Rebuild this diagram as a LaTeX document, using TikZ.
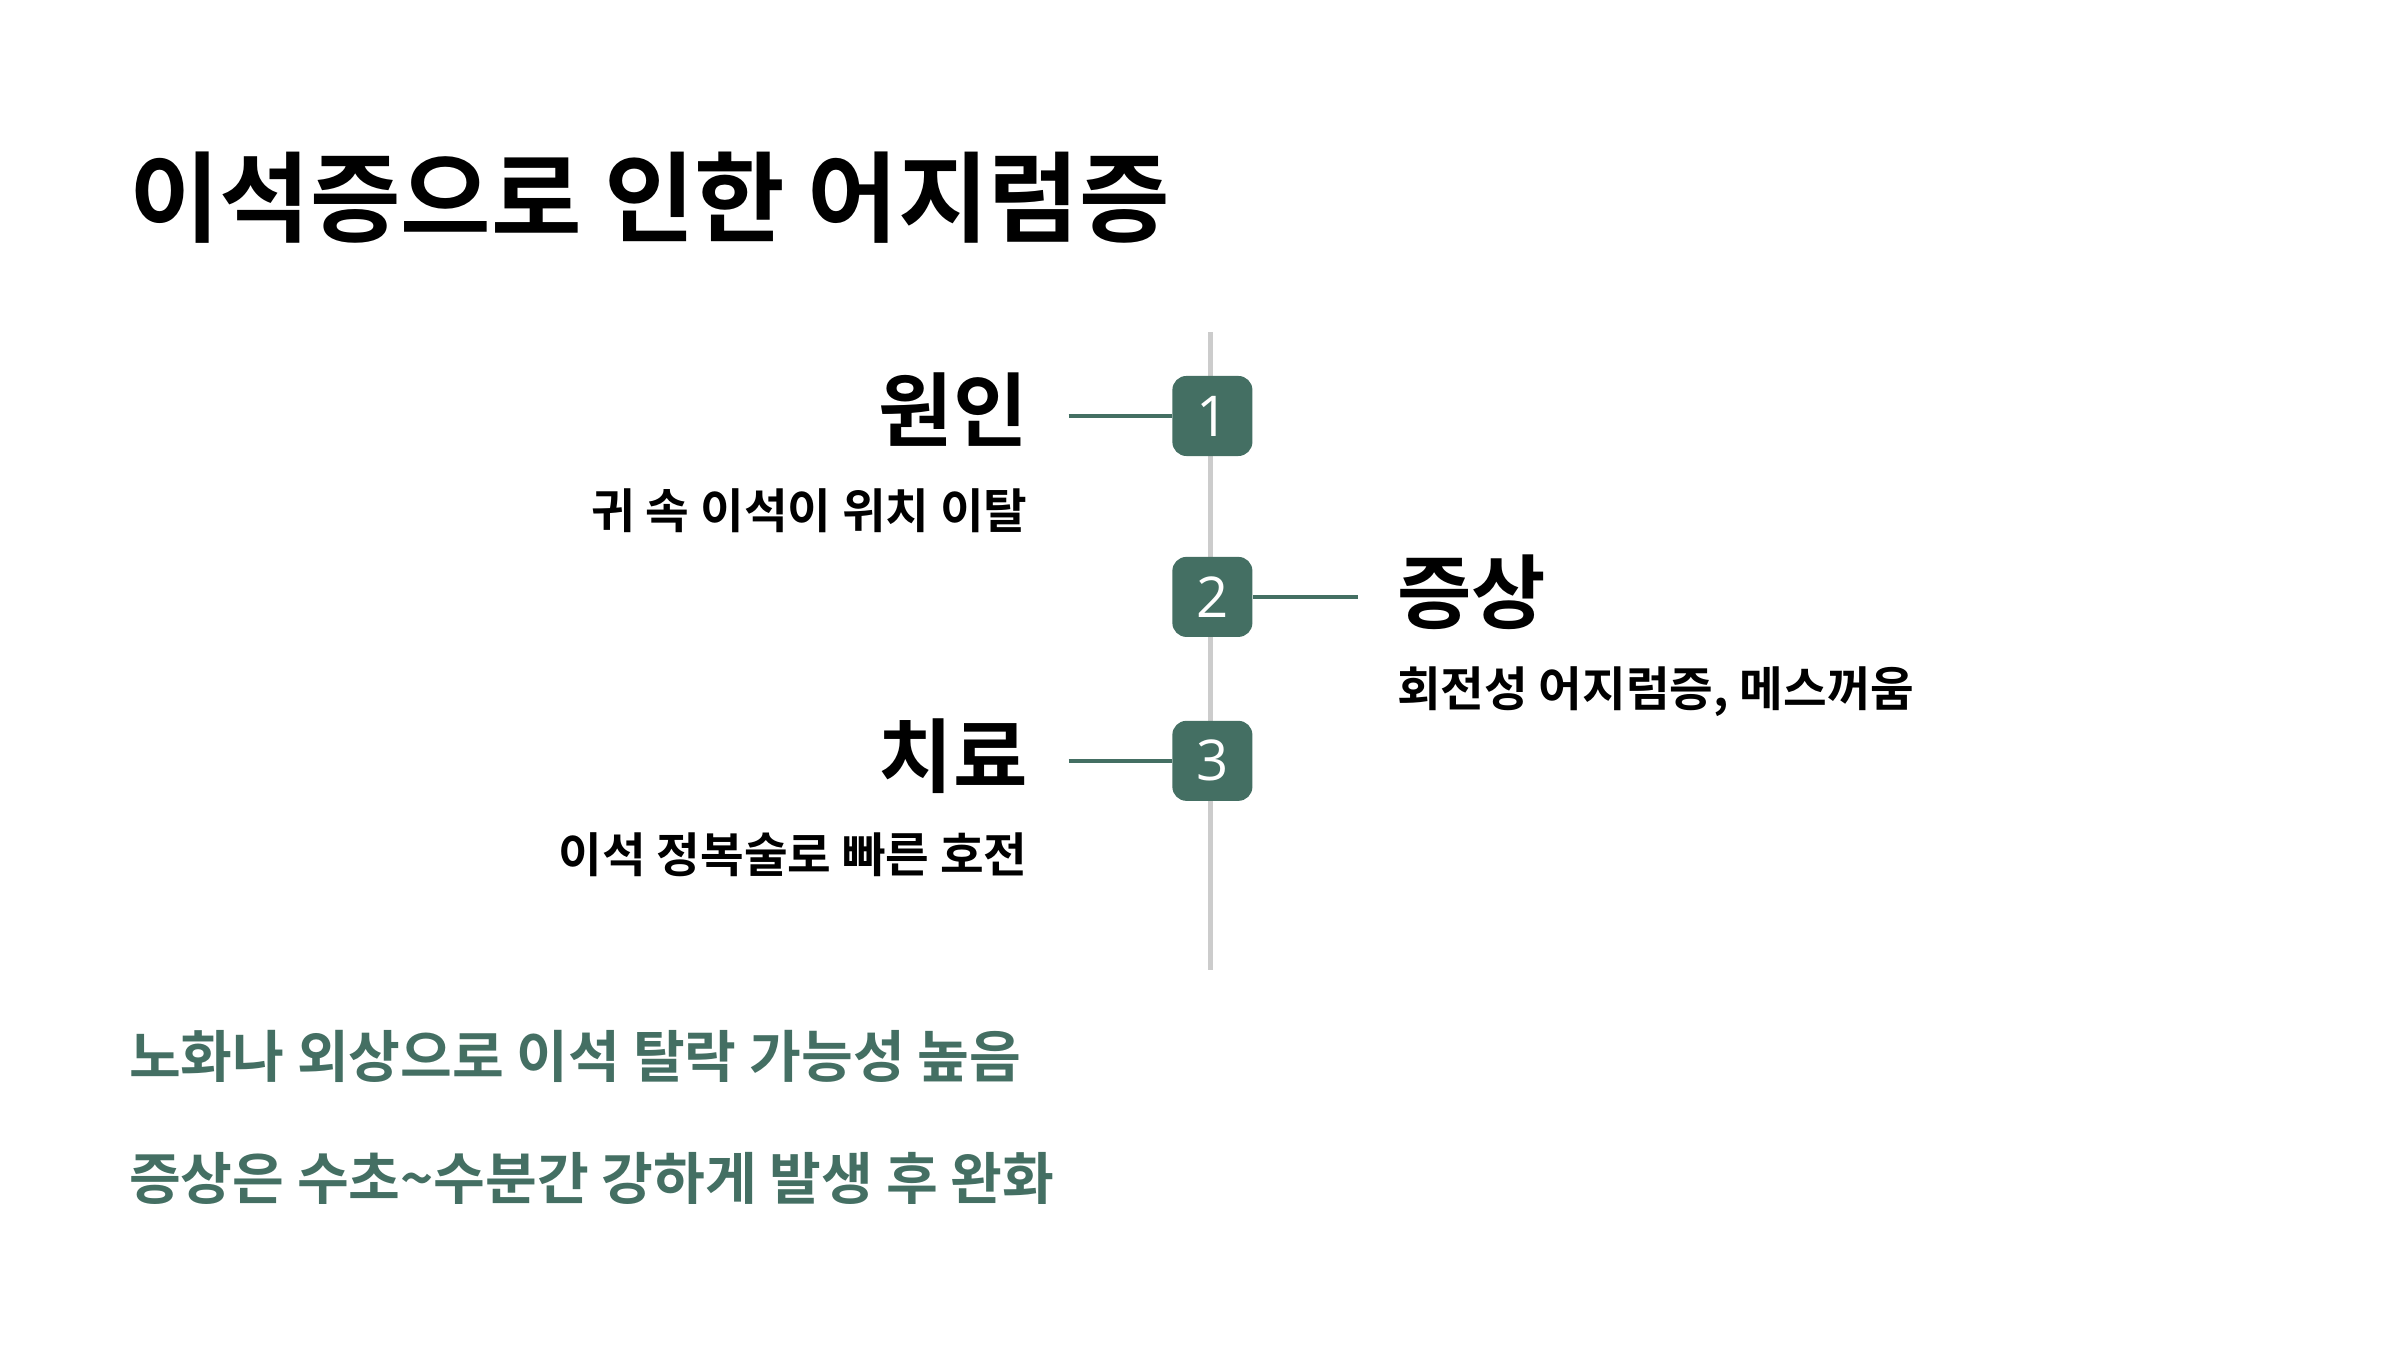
\documentclass[tikz,border=0pt]{standalone}
\usepackage{fontspec}
\setmainfont{Noto Sans CJK KR}
\newfontfamily\krb{Noto Sans CJK KR Bold}
\newfontfamily\numf{Open Sans}
\definecolor{accent}{HTML}{446F63}
\definecolor{vline}{HTML}{CCCCCC}
\begin{document}
\begin{tikzpicture}[x=0.015464cm,y=-0.015464cm,
  numbox/.style={fill=accent,rounded corners=4pt,minimum width=0.8cm,minimum height=0.8cm,inner sep=0pt,text=white,font=\numf\fontsize{16}{16}\selectfont},
  head/.style={font=\krb\fontsize{23}{23}\selectfont,inner sep=0pt},
  sub/.style={font=\krb\fontsize{13.5}{13.5}\selectfont,inner sep=0pt},
  note/.style={font=\krb\fontsize{16}{16}\selectfont,text=accent,inner sep=0pt,anchor=west},
  conn/.style={draw=accent,line width=1.2pt}]
\useasboundingbox (0,0) rectangle (1552,873);
\node[anchor=west,inner sep=0pt,font=\krb\fontsize{28}{28}\selectfont] (title) at (83,128) {이석증으로 인한 어지럼증};
\coordinate (vt) at (783,215); \coordinate (vb) at (783,627);
\draw[vline,line width=1.5pt] (vt) -- (vb);
\node[numbox] (b1) at (784,269) {1};
\node[numbox] (b2) at (784,386) {2};
\node[numbox] (b3) at (784,492) {3};
\coordinate (c1) at (691,269); \coordinate (c2) at (878,386); \coordinate (c3) at (691,492);
\draw[conn] (c1) -- (b1.west);
\draw[conn] (b2.east) -- (c2);
\draw[conn] (c3) -- (b3.west);
\node[head,anchor=east] (h1) at (665,265) {원인};
\node[sub,anchor=east] (s1) at (665,330) {귀 속 이석이 위치 이탈};
\node[head,anchor=west] (h2) at (903,383) {증상};
\node[sub,anchor=west] (s2) at (903,447) {회전성 어지럼증, 메스꺼움};
\node[head,anchor=east] (h3) at (665,489) {치료};
\node[sub,anchor=east] (s3) at (665,553) {이석 정복술로 빠른 호전};
\node[note] (n1) at (83,683) {노화나 외상으로 이석 탈락 가능성 높음};
\node[note] (n2) at (83,762) {증상은 수초\textasciitilde 수분간 강하게 발생 후 완화};
\end{tikzpicture}
\end{document}
